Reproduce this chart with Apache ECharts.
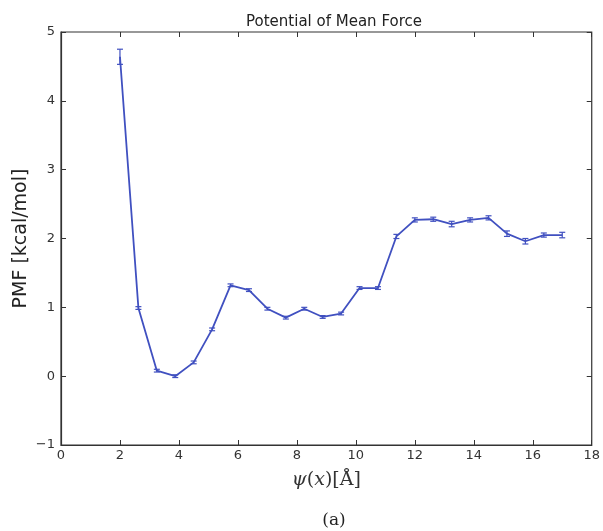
<!DOCTYPE html>
<html>
<head>
<meta charset="utf-8">
<script src="https://cdn.jsdelivr.net/npm/echarts@6/dist/echarts.min.js"></script>
<style>html,body{margin:0;padding:0;background:#fff;}#c{width:603px;height:531px;}</style>
</head>
<body>
<div id="c"></div>
<script>
const xValues = [2.0, 2.625, 3.25, 3.875, 4.5, 5.125, 5.75, 6.375, 7.0, 7.625, 8.25, 8.875, 9.5, 10.125, 10.75, 11.375, 12.0, 12.625, 13.25, 13.875, 14.5, 15.125, 15.75, 16.375, 17.0];
const pmf = [4.64, 0.99, 0.08, 0.0, 0.2, 0.68, 1.32, 1.25, 0.98, 0.85, 0.98, 0.86, 0.91, 1.28, 1.28, 2.03, 2.27, 2.28, 2.21, 2.27, 2.30, 2.07, 1.96, 2.05, 2.05];
const pmfErr = [0.11, 0.02, 0.02, 0.02, 0.02, 0.02, 0.02, 0.02, 0.02, 0.02, 0.02, 0.02, 0.02, 0.02, 0.02, 0.03, 0.03, 0.03, 0.04, 0.03, 0.03, 0.04, 0.04, 0.03, 0.04];
const xTicks = [0, 2, 4, 6, 8, 10, 12, 14, 16, 18];
const yTicks = [-1, 0, 1, 2, 3, 4, 5];

const lineColor = '#4050c0';
const lineData = xValues.map((x, i) => [x, pmf[i]]);
const errData = xValues.map((x, i) => [x, pmf[i] - pmfErr[i], pmf[i] + pmfErr[i]]);

const chart = echarts.init(document.getElementById('c'));
const labelStyle = { color: '#333', fontSize: 13, fontFamily: 'DejaVu Sans' };
const tickStyle = { show: true, inside: true, length: 5, lineStyle: { color: '#333', width: 1 } };
chart.setOption({
  animation: false,
  backgroundColor: '#fff',
  title: [
    { text: 'Potential of Mean Force', top: 10, left: 329, textAlign: 'center',
      textStyle: { fontSize: 15, fontWeight: 'normal', color: '#222', fontFamily: 'DejaVu Sans' } },
    { text: '(a)', left: 329, textAlign: 'center', top: 507,
      textStyle: { fontSize: 17, fontWeight: 'normal', color: '#222', fontFamily: 'DejaVu Serif' } }
  ],
  grid: { left: 61, right: 6, top: 32, bottom: 86, show: true, borderColor: '#333', borderWidth: 1.2 },
  xAxis: [
    { type: 'value', min: xTicks[0], max: xTicks[xTicks.length - 1], interval: 2, position: 'bottom',
      axisLine: { show: true, onZero: false, lineStyle: { color: '#333', width: 1.2 } },
      axisTick: tickStyle, splitLine: { show: false },
      axisLabel: Object.assign({ margin: 4 }, labelStyle),
      name: '{i|ψ}{r|(}{i|x}{r|)[Å]}', nameLocation: 'middle', nameGap: 26,
      nameTextStyle: { rich: {
        i: { fontFamily: 'DejaVu Serif', fontStyle: 'italic', fontSize: 19, color: '#333' },
        r: { fontFamily: 'DejaVu Serif', fontSize: 19, color: '#333' } } } },
    { type: 'value', min: xTicks[0], max: xTicks[xTicks.length - 1], interval: 2, position: 'top',
      axisLine: { show: false, onZero: false }, axisTick: tickStyle, axisLabel: { show: false }, splitLine: { show: false } }
  ],
  yAxis: [
    { type: 'value', min: yTicks[0], max: yTicks[yTicks.length - 1], interval: 1, position: 'left',
      axisLine: { show: true, onZero: false, lineStyle: { color: '#333', width: 1.2 } },
      axisTick: tickStyle, splitLine: { show: false },
      axisLabel: Object.assign({ margin: 6, formatter: v => (v < 0 ? '\u2212' + Math.abs(v) : String(v)) }, labelStyle),
      name: 'PMF [kcal/mol]', nameLocation: 'middle', nameGap: 30, nameMoveOverlap: false,
      nameTextStyle: { fontSize: 19, color: '#222', fontFamily: 'DejaVu Sans' } },
    { type: 'value', min: yTicks[0], max: yTicks[yTicks.length - 1], interval: 1, position: 'right',
      axisLine: { show: false, onZero: false }, axisTick: tickStyle, axisLabel: { show: false }, splitLine: { show: false } }
  ],
  series: [
    { type: 'line', data: lineData, symbol: 'none', lineStyle: { color: lineColor, width: 1.8 }, z: 3 },
    { type: 'custom', data: errData, z: 4,
      renderItem: function (params, api) {
        const x = api.value(0);
        const lo = api.coord([x, api.value(1)]);
        const hi = api.coord([x, api.value(2)]);
        const w = 3;
        const st = { stroke: lineColor, lineWidth: 1.2 };
        return { type: 'group', children: [
          { type: 'line', shape: { x1: lo[0], y1: lo[1], x2: hi[0], y2: hi[1] }, style: st },
          { type: 'line', shape: { x1: lo[0] - w, y1: lo[1], x2: lo[0] + w, y2: lo[1] }, style: st },
          { type: 'line', shape: { x1: hi[0] - w, y1: hi[1], x2: hi[0] + w, y2: hi[1] }, style: st }
        ] };
      },
      encode: { x: 0, y: [1, 2] } }
  ]
});
</script>
</body>
</html>
